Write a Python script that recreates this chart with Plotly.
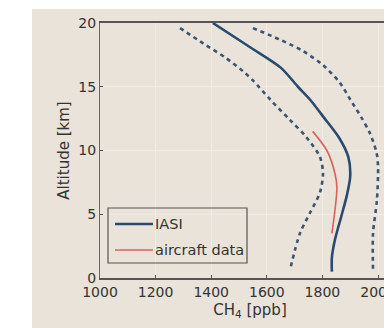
import plotly.graph_objects as go

# IASI mean profile
iasi_alt = [20, 18.1, 16.5, 15.0, 14.0, 12.6, 11.0, 9.5, 8.0, 6.5, 5.0, 3.0, 1.6, 0.5]
iasi_ch4 = [1406, 1540, 1650, 1712, 1755, 1805, 1860, 1893, 1900, 1888, 1870, 1845, 1834, 1834]

# aircraft data
air_alt = [11.5, 10.0, 8.2, 7.1, 5.3, 3.5]
air_ch4 = [1765, 1816, 1845, 1852, 1845, 1834]

# lower envelope (dashed)
low_alt = [19.6, 18.4, 17.3, 16.2, 15.5, 14.0, 12.4, 11.1, 9.5, 8.2, 6.7, 5.1, 3.5, 0.6]
low_ch4 = [1288, 1371, 1450, 1515, 1550, 1612, 1683, 1740, 1791, 1802, 1791, 1755, 1719, 1683]

# upper envelope (dashed)
up_alt = [19.6, 18.7, 17.8, 16.7, 15.3, 14.0, 12.6, 11.4, 9.8, 8.7, 6.1, 3.5, 0.6]
up_ch4 = [1550, 1647, 1730, 1802, 1863, 1900, 1940, 1970, 1995, 2000, 1996, 1982, 1982]

x_ticks = [1000, 1200, 1400, 1600, 1800, 2000]
y_ticks = [0, 5, 10, 15, 20]
legend_names = ["IASI", "aircraft data"]

BG = "#e9e3da"
DASH = "#3c5570"
BLUE = "#2b4a6e"
RED = "#d9635c"
FONT = "DejaVu Sans"
TXT = "#333333"

# plot area in figure pixels: x 92..392, y 15..270
PL, PT, PW, PH = 92, 15, 300, 255
def px(x):
    return (x - PL) / PW
def py(y):
    return (PT + PH - y) / PH

fig = go.Figure()
fig.add_trace(go.Scatter(x=low_ch4, y=low_alt, mode="lines", showlegend=False,
                         line=dict(color=DASH, width=2.6, dash="4px,4px", shape="spline", smoothing=0.8)))
fig.add_trace(go.Scatter(x=up_ch4, y=up_alt, mode="lines", showlegend=False,
                         line=dict(color=DASH, width=2.6, dash="4px,4px", shape="spline", smoothing=0.8)))
fig.add_trace(go.Scatter(x=iasi_ch4, y=iasi_alt, mode="lines", name=legend_names[0], showlegend=False,
                         line=dict(color=BLUE, width=2.6, shape="spline", smoothing=0.8)))
fig.add_trace(go.Scatter(x=air_ch4, y=air_alt, mode="lines", name=legend_names[1], showlegend=False,
                         line=dict(color=RED, width=1.6, shape="spline", smoothing=0.8)))

# beige panel background
fig.add_shape(type="rect", xref="paper", yref="paper", x0=px(24), x1=1.05, y0=-0.4, y1=py(1),
              fillcolor=BG, line=dict(width=0), layer="below")

# legend box
fig.add_shape(type="rect", xref="paper", yref="paper", x0=px(100), x1=px(239), y0=py(255), y1=py(200),
              fillcolor="rgba(0,0,0,0)", line=dict(color="#555555", width=1.2))
for i, (name, col, w) in enumerate(zip(legend_names, [BLUE, RED], [2.6, 1.6])):
    yy = py(216 + 26 * i)
    fig.add_shape(type="line", xref="paper", yref="paper", x0=px(107), x1=px(145), y0=yy, y1=yy,
                  line=dict(color=col, width=w))
    fig.add_annotation(xref="paper", yref="paper", x=px(145), y=yy, text=name, showarrow=False,
                       xanchor="left", yanchor="middle", font=dict(family=FONT, size=14.5, color=TXT))

fig.update_layout(
    width=392, height=328,
    margin=dict(l=PL, r=0, t=PT, b=328 - PT - PH),
    paper_bgcolor="white", plot_bgcolor=BG,
    font=dict(family=FONT, size=14, color=TXT),
    showlegend=False,
    xaxis=dict(range=[1000, 2079], tickvals=x_ticks, ticktext=[str(v) for v in x_ticks],
               showgrid=True, gridcolor="#f1ece5", gridwidth=1, zeroline=False,
               showline=True, linecolor="#555555", linewidth=1.5, mirror=True,
               ticks="inside", ticklen=3, tickcolor="#555555",
               tickfont=dict(size=14),
               title=dict(text="CH<sub>4</sub> [ppb]", standoff=6, font=dict(size=15))),
    yaxis=dict(range=[0, 20], tickvals=y_ticks,
               showgrid=True, gridcolor="#f1ece5", gridwidth=1, zeroline=False,
               showline=True, linecolor="#666666", linewidth=1.2, mirror=True,
               ticks="inside", ticklen=3, tickcolor="#555555",
               tickfont=dict(size=14),
               title=dict(text="Altitude [km]", standoff=5, font=dict(size=15))),
)

fig.write_html("out.html")
